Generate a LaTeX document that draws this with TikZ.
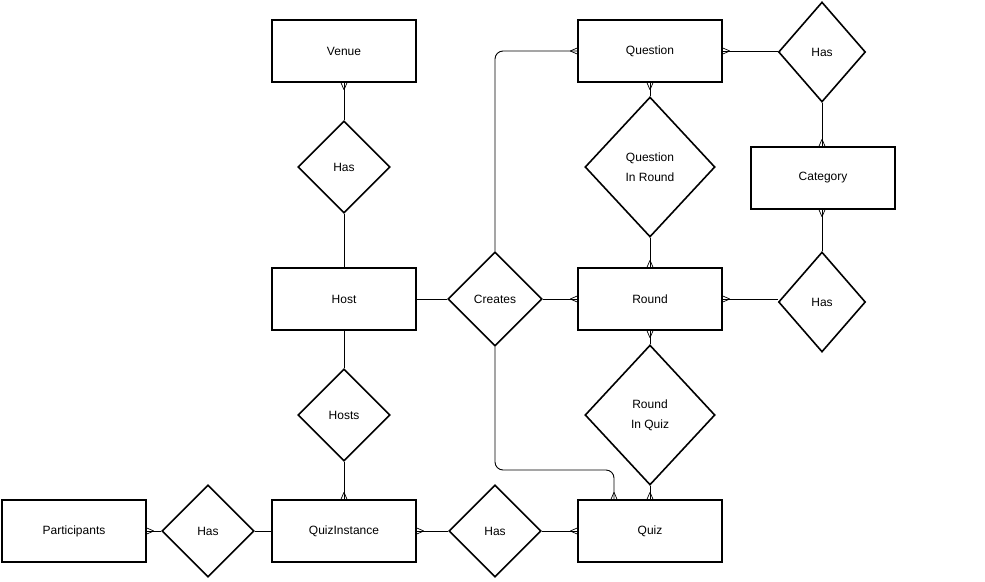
\documentclass[tikz,border=0pt]{standalone}
\usepackage{fontspec}
\setmainfont{Liberation Sans}
\usetikzlibrary{shapes.geometric,decorations.markings}
\begin{document}
\begin{tikzpicture}[x=1pt,y=-1pt,
  ent/.style={draw, line width=1.6pt, minimum width=144pt, minimum height=62pt, inner sep=0pt, font=\fontsize{12}{14}\selectfont},
  rel/.style={draw, diamond, line width=1.6pt, inner sep=0pt, font=\fontsize{12}{20}\selectfont, align=center},
  conn/.style={line width=0.9pt},
  crowend/.style={postaction={decorate}, decoration={markings, mark=at position 1 with {\draw[line width=0.7pt] (-7pt,0pt) -- (0pt,3pt) (-7pt,0pt) -- (0pt,-3pt);}}},
]
\useasboundingbox (0,0) rectangle (985,581);
% entities
\node[ent] (venue) at (344,51) {Venue};
\node[ent] (host) at (344,299) {Host};
\node[ent] (qi) at (344,531) {QuizInstance};
\node[ent] (part) at (74,531) {Participants};
\node[ent] (quiz) at (650,531) {Quiz};
\node[ent] (round) at (650,299) {Round};
\node[ent] (question) at (650,51) {Question};
\node[ent] (category) at (823,178) {Category};
% relationships
\node[rel, minimum width=92pt, minimum height=92pt] (has1) at (344,167) {Has};
\node[rel, minimum width=92pt, minimum height=92pt] (hosts) at (344,415) {Hosts};
\node[rel, minimum width=92pt, minimum height=92pt] (hasl) at (208,531) {Has};
\node[rel, minimum width=92pt, minimum height=92pt] (hasm) at (495,531) {Has};
\node[rel, minimum width=94pt, minimum height=94pt] (creates) at (495,299) {Creates};
\node[rel, minimum width=130pt, minimum height=140pt] (qir) at (650,167) {Question\\In Round};
\node[rel, minimum width=130pt, minimum height=140pt] (riq) at (650,415) {Round\\In Quiz};
\node[rel, minimum width=87pt, minimum height=100pt] (hastr) at (822,52) {Has};
\node[rel, minimum width=87pt, minimum height=100pt] (hasrm) at (822,302) {Has};
\coordinate (qc) at (614,470);
% connectors
\draw[conn,crowend] (has1.north) -- (venue.south);
\draw[conn] (has1.south) -- (host.north);
\draw[conn] (host.south) -- (hosts.north);
\draw[conn,crowend] (hosts.south) -- (qi.north);
\draw[conn,crowend] (hasl.west) -- (part.east);
\draw[conn] (hasl.east) -- (qi.west);
\draw[conn,crowend] (hasm.west) -- (qi.east);
\draw[conn,crowend] (hasm.east) -- (quiz.west);
\draw[conn] (host.east) -- (creates.west);
\draw[conn,crowend] (creates.east) -- (round.west);
\draw[conn,crowend,rounded corners=8pt] (creates.north) |- (question.west);
\draw[conn,crowend,rounded corners=8pt] (creates.south) |- (qc) -- (qc |- quiz.north);
\draw[conn,crowend] (qir.north) -- (question.south);
\draw[conn,crowend] (qir.south) -- (round.north);
\draw[conn,crowend] (riq.north) -- (round.south);
\draw[conn,crowend] (riq.south) -- (quiz.north);
\draw[conn,crowend] (hastr.west |- question.east) -- (question.east);
\draw[conn,crowend] (hastr.south) -- (hastr.south |- category.north);
\draw[conn,crowend] (hasrm.north) -- (hasrm.north |- category.south);
\draw[conn,crowend] (round.east -| hasrm.west) -- (round.east);
\end{tikzpicture}
\end{document}
